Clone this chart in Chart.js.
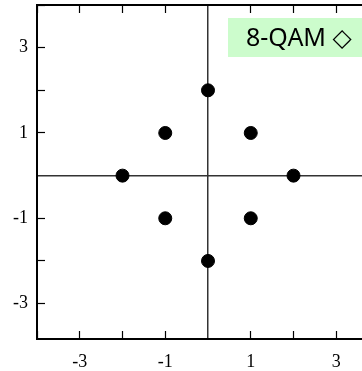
<!DOCTYPE html>
<html>
<head>
<meta charset="utf-8">
<script src="https://cdn.jsdelivr.net/npm/chart.js@4/dist/chart.umd.min.js"></script>
<style>
  html, body { margin: 0; padding: 0; background: #fff; overflow: hidden; }
  #wrap { position: relative; width: 400px; height: 371px; }
</style>
</head>
<body>
<div id="wrap"><canvas id="c"></canvas></div>
<script>
// ---- data ----
const seriesName = '8-QAM';
const legendSymbol = '\u25C7';
const xValues = [0, -1, 1, -2, 2, -1, 1, 0];
const yValues = [2, 1, 1, 0, 0, -1, -1, -2];
const xTickLabels = [-3, -1, 1, 3];
const yTickLabels = [-3, -1, 1, 3];

const points = xValues.map((x, i) => ({ x: x, y: yValues[i] }));

const serif = "'Liberation Serif', 'Times New Roman', serif";

function gridOpts() {
  return {
    display: true,
    drawOnChartArea: true,
    drawTicks: true,
    tickLength: -8,
    color: ctx => (ctx.tick && ctx.tick.value === 0) ? '#333' : 'rgba(0,0,0,0)',
    lineWidth: ctx => (ctx.tick && ctx.tick.value === 0) ? 1.5 : 1,
    tickColor: ctx => (ctx.tick && ctx.tick.value === 0) ? 'rgba(0,0,0,0)' : '#000',
    tickWidth: 1.2
  };
}

function zeroPad(s) {
  s.paddingTop = 0; s.paddingBottom = 0; s.paddingLeft = 0; s.paddingRight = 0;
}

const legendBox = {
  id: 'legendBox',
  afterDraw(chart, args, opts) {
    const c = chart.ctx;
    c.save();
    c.fillStyle = opts.background;
    c.fillRect(opts.x, opts.y, opts.w, opts.h);
    c.fillStyle = '#000';
    c.font = opts.font;
    c.textBaseline = 'middle';
    c.textAlign = 'left';
    const ds = chart.data.datasets[0];
    c.fillText(ds.label + ' ' + legendSymbol, opts.textX, opts.y + opts.h / 2 + 1);
    c.restore();
  }
};

new Chart(document.getElementById('c'), {
  type: 'scatter',
  data: {
    datasets: [{
      label: seriesName,
      data: points,
      backgroundColor: '#000',
      borderColor: '#000',
      pointRadius: 6.5,
      pointHoverRadius: 6.5
    }]
  },
  options: {
    responsive: true,
    maintainAspectRatio: false,
    animation: false,
    events: [],
    layout: { autoPadding: false, padding: { top: 0, right: 21, bottom: 0, left: 0 } },
    plugins: {
      legend: { display: false },
      tooltip: { enabled: false },
      legendBox: {
        background: '#ccfccc',
        x: 228, y: 18, w: 150, h: 39,
        textX: 246,
        font: "25px 'Noto Sans', 'DejaVu Sans', sans-serif"
      }
    },
    scales: {
      x: {
        type: 'linear',
        position: 'bottom',
        min: -4, max: 4,
        border: { display: true, color: '#000', width: 2 },
        grid: gridOpts(),
        ticks: {
          stepSize: 1,
          includeBounds: false,
          autoSkip: false,
          maxRotation: 0,
          padding: 20,
          color: '#000',
          font: { family: serif, size: 18 },
          callback: v => xTickLabels.includes(v) ? String(v) : ''
        },
        afterFit: s => { s.height = 32; zeroPad(s); }
      },
      xTop: {
        type: 'linear',
        position: 'top',
        min: -4, max: 4,
        border: { display: true, color: '#000', width: 2 },
        grid: Object.assign(gridOpts(), { drawOnChartArea: false }),
        ticks: {
          stepSize: 1,
          includeBounds: false,
          autoSkip: false,
          display: false
        },
        afterFit: s => { s.height = 5; zeroPad(s); }
      },
      y: {
        type: 'linear',
        position: 'left',
        min: -3.83, max: 4,
        border: { display: true, color: '#000', width: 2 },
        grid: gridOpts(),
        ticks: {
          stepSize: 1,
          includeBounds: false,
          autoSkip: false,
          padding: 17,
          color: '#000',
          font: { family: serif, size: 18 },
          callback: v => yTickLabels.includes(v) ? String(v) : ''
        },
        afterFit: s => { s.width = 37; zeroPad(s); }
      }
    }
  },
  plugins: [legendBox]
});
</script>
</body>
</html>
